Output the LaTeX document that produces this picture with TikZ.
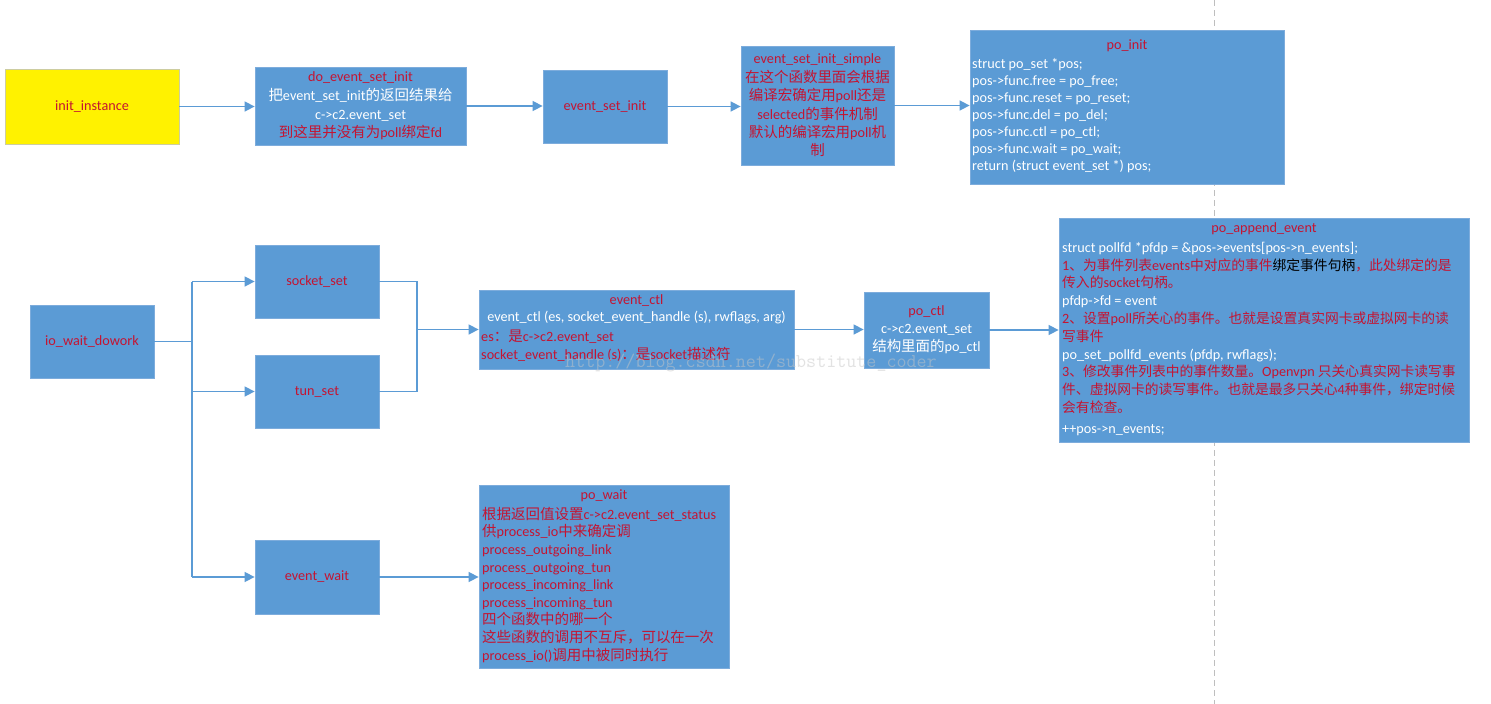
\documentclass[tikz,border=0pt]{standalone}
\usepackage{fontspec}
\setmainfont{Carlito}
\newfontfamily\cjk[Scale=1.02]{Noto Sans CJK SC}
\newfontfamily\cjks[Scale=0.97]{Noto Sans CJK SC}
\usetikzlibrary{arrows.meta}
\definecolor{boxblue}{RGB}{91,155,213}
\definecolor{boxline}{RGB}{125,172,220}
\definecolor{txtred}{RGB}{196,20,50}
\definecolor{linkblue}{RGB}{91,155,213}
\definecolor{dashgray}{RGB}{190,190,190}
\definecolor{ylwline}{RGB}{205,205,160}
\newcommand\zh[1]{{\cjk #1}}
\newcommand\zhs[1]{{\cjks #1}}
\newcommand\R[1]{\textcolor{txtred}{#1}}
\newcommand\fs{\rule{0pt}{13pt}}
\begin{document}
\begin{tikzpicture}[x=1pt,y=-1pt,
  box/.style={draw=boxline, fill=boxblue, line width=0.8pt, inner sep=0pt, text=white, align=center, font=\fontsize{14.2}{18}\selectfont},
  txt/.style={inner sep=0pt, text=white, font=\fontsize{14.2}{#1}\selectfont},
  txt/.default=17,
  link/.style={draw=linkblue, line width=1.5pt},
  arr/.style={link, -{Triangle[length=10pt,width=10pt]}},
]
\useasboundingbox (0,0) rectangle (1491,704);
\fill[white] (0,0) rectangle (1491,704);
% dashed divider
\coordinate (dtop) at (1214,0);
\coordinate (dbot) at (1214,704);
\draw[dashgray, line width=1pt, dash pattern=on 6pt off 4pt] (dtop) -- (dbot);

% ---- top row
\node[box, fill=yellow, draw=ylwline, minimum width=174pt, minimum height=75pt, text=txtred] (init) at (92,106.5) {init\_instance};
\node[box, minimum width=211pt, minimum height=78pt, font=\fontsize{14.2}{18.7}\selectfont] (doinit) at (360.5,106)
  {\R{do\_event\_set\_init}\\\zh{把}event\_set\_init\zh{的返回结果给}\\c->c2.event\_set\\\R{\zh{到这里并没有为}poll\zh{绑定}fd}};
\node[box, minimum width=124pt, minimum height=73pt, text=txtred] (esi) at (605,106.5) {event\_set\_init};
\node[box, minimum width=153pt, minimum height=119pt, text=txtred, font=\fontsize{14.2}{18.4}\selectfont] (esis) at (817.5,105.5)
  {event\_set\_init\_simple\\\zh{在这个函数里面会根据}\\\zh{编译宏确定用}poll\zh{还是}\\selected\zh{的事件机制}\\\zh{默认的编译宏用}poll\zh{机}\\\zh{制}};
\node[box, minimum width=314pt, minimum height=154pt] (poinit) at (1127,107) {};
\node[txt, text=txtred] (poinitT) at (1127,46) {po\_init};
\node[txt=17, anchor=north west, align=left] (poinitB) at (972,55)
  {\fs struct po\_set *pos;\\pos->func.free = po\_free;\\pos->func.reset = po\_reset;\\pos->func.del = po\_del;\\pos->func.ctl = po\_ctl;\\pos->func.wait = po\_wait;\\return (struct event\_set *) pos;};

% ---- second part
\node[box, minimum width=124pt, minimum height=73pt, text=txtred] (io) at (92,341.5) {io\_wait\_dowork};
\node[box, minimum width=124pt, minimum height=73pt, text=txtred] (sock) at (317,281.5) {socket\_set};
\node[box, minimum width=124pt, minimum height=73pt, text=txtred] (tun) at (317,391.5) {tun\_set};
\node[box, minimum width=124pt, minimum height=74pt, text=txtred] (ew) at (317,577) {event\_wait};

\node[box, minimum width=315pt, minimum height=79pt] (ectl) at (636.5,329.5) {};
\node[txt=17, align=center] (ectlT) at (636.5,309.5) {\R{event\_ctl}\\event\_ctl (es, socket\_event\_handle (s), rwflags, arg)};
\node[txt=18, anchor=north west, align=left] (ectlB) at (481,328)
  {\fs\R{es\zh{：是}c->c2.event\_set}\\\R{socket\_event\_handle (s)\zh{：是}socket\zh{描述符}}};

\node[box, minimum width=125pt, minimum height=76pt] (poctl) at (926.5,330)
  {\R{po\_ctl}\\c->c2.event\_set\\\zh{结构里面的}po\_ctl};

\node[box, minimum width=410pt, minimum height=224pt] (pae) at (1264,330) {};
\node[txt, text=txtred] (paeT) at (1264,229) {po\_append\_event};
\node[txt=17.8, anchor=north west, align=left] (paeB) at (1062,239)
  {\fs struct pollfd *pfdp = \&pos->events[pos->n\_events];\\
   \R{1\zhs{、为事件列表}events\zhs{中对应的事件}}\textcolor{black}{\zhs{绑定事件句柄}}\R{\zhs{，此处绑定的是}}\\
   \R{\zhs{传入的}socket\zhs{句柄。}}\\
   pfdp->fd = event\\
   \R{2\zhs{、设置}poll\zhs{所关心的事件。也就是设置真实网卡或虚拟网卡的读}}\\
   \R{\zhs{写事件}}\\
   po\_set\_pollfd\_events (pfdp, rwflags);\\
   \R{3\zhs{、修改事件列表中的事件数量。}Openvpn \zhs{只关心真实网卡读写事}}\\
   \R{\zhs{件、虚拟网卡的读写事件。也就是最多只关心}4\zhs{种事件，绑定时候}}\\
   \R{\zhs{会有检查。}}\\[3pt]
   ++pos->n\_events;};

\node[box, minimum width=250pt, minimum height=183pt] (pw) at (604,576.5) {};
\node[txt, text=txtred] (pwT) at (604,496) {po\_wait};
\node[txt=17.6, anchor=north west, align=left, text=txtred] (pwB) at (482,506)
  {\fs\zh{根据返回值设置}c->c2.event\_set\_status\\
   \zh{供}process\_io\zh{中来确定调}\\
   process\_outgoing\_link\\
   process\_outgoing\_tun\\
   process\_incoming\_link\\
   process\_incoming\_tun\\
   \zh{四个函数中的哪一个}\\
   \zh{这些函数的调用不互斥，可以在一次}\\
   process\_io()\zh{调用中被同时执行}};

% ---- connectors
\draw[arr] (init.east) -- (init.east -| doinit.west);
\draw[arr] (doinit.east) -- (doinit.east -| esi.west);
\draw[arr] (esi.east) -- (esi.east -| esis.west);
\draw[arr] (esis.east) -- (esis.east -| poinit.west);

\coordinate (j1) at (192,341.5);
\draw[link] (io.east) -- (j1);
\draw[link] (j1 |- sock.west) -- (j1 |- ew.west);
\draw[arr] (j1 |- sock.west) -- (sock.west);
\draw[arr] (j1 |- tun.west) -- (tun.west);
\draw[arr] (j1 |- ew.west) -- (ew.west);

\coordinate (j2) at (417,329.5);
\draw[link] (sock.east) -- (sock.east -| j2) -- (tun.east -| j2) -- (tun.east);
\draw[arr] (j2) -- (ectl.west);
\draw[arr] (ectl.east) -- (ectl.east -| poctl.west);
\draw[arr] (poctl.east) -- (poctl.east -| pae.west);
\draw[arr] (ew.east) -- (ew.east -| pw.west);

% watermark
\node[inner sep=0pt, text=gray!45, opacity=0.5, font=\fontsize{19.5}{20}\selectfont\ttfamily] (wm) at (751,363) {http://blog.csdn.net/substitute\_coder};
\end{tikzpicture}
\end{document}
